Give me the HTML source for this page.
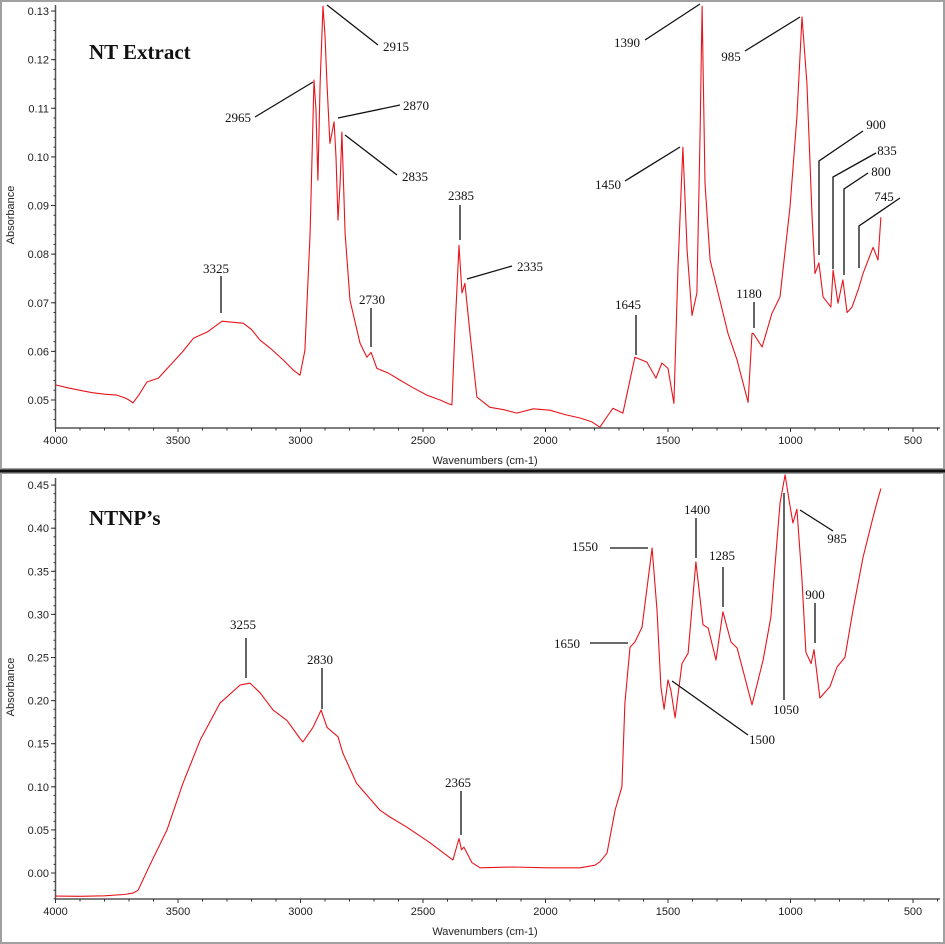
<!DOCTYPE html>
<html><head><meta charset="utf-8"><style>
html,body{margin:0;padding:0;background:#fff}
svg{display:block}
.tk{font-family:"Liberation Sans",sans-serif;font-size:11px;fill:#222}
.an{font-family:"Liberation Serif",serif;font-size:13px;fill:#111}
.ttl{font-family:"Liberation Serif",serif;font-size:21px;font-weight:bold;fill:#111}
.al{stroke:#111;stroke-width:1.3;fill:none}
</style></head><body>
<svg id="chart" width="945" height="944" viewBox="0 0 945 944" xmlns="http://www.w3.org/2000/svg">
<rect x="0" y="0" width="945" height="944" fill="#fff"/>
<rect x="1" y="1" width="943" height="468" fill="none" stroke="#a0a0a0" stroke-width="2"/>
<rect x="1" y="473" width="943" height="470" fill="none" stroke="#a0a0a0" stroke-width="2"/>
<line x1="0" y1="471" x2="945" y2="471" stroke="#111" stroke-width="3"/>
<g id="top"></g>
<g id="bot"></g>
<text class="ttl" x="89" y="59">NT Extract</text>
<text class="ttl" x="89" y="525">NTNP’s</text>
<g id="annTop">
<text class="an" x="238" y="122" text-anchor="middle">2965</text><path class="al" d="M255,117 L313,82"/>
<path class="al" d="M327,5 L378,45"/><text class="an" x="383" y="51">2915</text>
<path class="al" d="M338,118 L400,105"/><text class="an" x="403" y="110">2870</text>
<path class="al" d="M345,135 L397,175"/><text class="an" x="402" y="181">2835</text>
<text class="an" x="461" y="200" text-anchor="middle">2385</text><path class="al" d="M460,205 L460,240"/>
<path class="al" d="M467,279 L512,266"/><text class="an" x="517" y="271">2335</text>
<text class="an" x="372" y="304" text-anchor="middle">2730</text><path class="al" d="M371,308 L371,347"/>
<text class="an" x="216" y="273" text-anchor="middle">3325</text><path class="al" d="M221,276 L221,313"/>
<text class="an" x="627" y="47" text-anchor="middle">1390</text><path class="al" d="M645,40 L700,4"/>
<text class="an" x="731" y="61" text-anchor="middle">985</text><path class="al" d="M745,51 L800,17"/>
<text class="an" x="608" y="189" text-anchor="middle">1450</text><path class="al" d="M625,181 L680,147"/>
<text class="an" x="628" y="309" text-anchor="middle">1645</text><path class="al" d="M636,315 L636,355"/>
<text class="an" x="749" y="298" text-anchor="middle">1180</text><path class="al" d="M754,302 L754,328"/>
<text class="an" x="876" y="129" text-anchor="middle">900</text><path class="al" d="M819,255 L819,161 L863,131"/>
<text class="an" x="887" y="155" text-anchor="middle">835</text><path class="al" d="M833,269 L833,177 L876,153"/>
<text class="an" x="881" y="176" text-anchor="middle">800</text><path class="al" d="M844,275 L844,189 L868,173"/>
<text class="an" x="884" y="201" text-anchor="middle">745</text><path class="al" d="M859,268 L859,226 L900,198"/>
</g>
<g id="annBot">
<text class="an" x="243" y="629" text-anchor="middle">3255</text><path class="al" d="M246,638 L246,678"/>
<text class="an" x="320" y="664" text-anchor="middle">2830</text><path class="al" d="M322,668 L322,709"/>
<text class="an" x="458" y="787" text-anchor="middle">2365</text><path class="al" d="M461,791 L461,835"/>
<text class="an" x="585" y="551" text-anchor="middle">1550</text><path class="al" d="M610,548 L648,548"/>
<text class="an" x="567" y="648" text-anchor="middle">1650</text><path class="al" d="M590,643 L628,643"/>
<text class="an" x="697" y="514" text-anchor="middle">1400</text><path class="al" d="M696,518 L696,558"/>
<text class="an" x="722" y="560" text-anchor="middle">1285</text><path class="al" d="M723,567 L723,607"/>
<text class="an" x="762" y="744" text-anchor="middle">1500</text><path class="al" d="M672,681 L748,735"/>
<text class="an" x="786" y="714" text-anchor="middle">1050</text><path class="al" d="M784,493 L784,700"/>
<text class="an" x="837" y="543" text-anchor="middle">985</text><path class="al" d="M800,510 L833,531"/>
<text class="an" x="815" y="599" text-anchor="middle">900</text><path class="al" d="M815,603 L815,643"/>
</g>
</svg>
<script>
// ---- top spectrum (NT Extract)
const topWn  = [4000,3950,3900,3850,3800,3750,3720,3700,3684,3660,3627,3580,3520,3480,3437,3380,3320,3280,3234,3200,3165,3120,3070,3030,3002,2982,2961,2945,2937,2929,2920,2908,2900,2892,2880,2863,2855,2847,2838,2831,2818,2798,2757,2729,2712,2688,2640,2594,2540,2484,2430,2395,2382,2370,2353,2341,2329,2308,2280,2227,2170,2117,2050,1982,1920,1859,1810,1778,1750,1725,1684,1635,1586,1549,1525,1500,1476,1459,1439,1422,1402,1382,1369,1361,1349,1328,1288,1255,1218,1173,1157,1152,1116,1076,1043,1002,974,953,933,912,900,884,867,835,826,806,786,769,749,724,704,663,643,631];
const topAbs = [0.0531,0.0525,0.0520,0.0515,0.0512,0.0510,0.0505,0.0500,0.0494,0.0510,0.0537,0.0545,0.0578,0.0600,0.0627,0.0640,0.0662,0.0660,0.0658,0.0645,0.0623,0.0605,0.0582,0.0562,0.0551,0.0602,0.0843,0.1158,0.1100,0.0952,0.1150,0.1310,0.1250,0.1150,0.1028,0.1072,0.1000,0.0870,0.0950,0.1051,0.0843,0.0705,0.0617,0.0588,0.0598,0.0565,0.0555,0.0541,0.0525,0.0510,0.0500,0.0492,0.0490,0.0637,0.0818,0.0720,0.0740,0.0637,0.0506,0.0485,0.0480,0.0473,0.0482,0.0479,0.0470,0.0463,0.0455,0.0444,0.0465,0.0483,0.0473,0.0588,0.0578,0.0545,0.0576,0.0565,0.0493,0.0773,0.1020,0.0808,0.0674,0.0720,0.1050,0.1310,0.0946,0.0788,0.0705,0.0637,0.0582,0.0495,0.0637,0.0637,0.0609,0.0678,0.0712,0.0897,0.1082,0.1288,0.1152,0.0876,0.0760,0.0782,0.0712,0.0691,0.0767,0.0699,0.0747,0.0680,0.0691,0.0726,0.0760,0.0814,0.0788,0.0876];
const topYTicks = [0.05,0.06,0.07,0.08,0.09,0.10,0.11,0.12,0.13];
const topYLabels = ["0.05","0.06","0.07","0.08","0.09","0.10","0.11","0.12","0.13"];
// ---- bottom spectrum (NTNP's)
const botWn  = [4000,3900,3800,3720,3684,3663,3615,3545,3480,3410,3329,3247,3206,3165,3112,3055,3002,2990,2949,2916,2892,2847,2827,2771,2676,2635,2565,2471,2378,2353,2343,2333,2300,2267,2133,1994,1859,1798,1778,1749,1716,1688,1676,1655,1635,1606,1565,1545,1529,1516,1500,1488,1471,1443,1418,1386,1357,1336,1304,1276,1243,1218,1194,1157,1112,1080,1043,1022,1006,990,974,953,937,916,904,880,839,810,778,745,704,663,647,631];
const botAbs = [-0.0268,-0.0270,-0.0265,-0.0250,-0.0233,-0.0200,0.009,0.050,0.104,0.154,0.197,0.218,0.2203,0.209,0.189,0.177,0.156,0.152,0.169,0.189,0.169,0.158,0.139,0.104,0.073,0.065,0.053,0.035,0.015,0.040,0.027,0.030,0.012,0.006,0.007,0.006,0.006,0.009,0.013,0.023,0.073,0.100,0.197,0.262,0.268,0.285,0.377,0.305,0.216,0.190,0.224,0.212,0.180,0.243,0.255,0.361,0.288,0.284,0.247,0.303,0.268,0.261,0.235,0.195,0.247,0.297,0.429,0.462,0.433,0.406,0.422,0.340,0.256,0.243,0.259,0.203,0.216,0.239,0.250,0.305,0.366,0.413,0.430,0.446];
const botYTicks = [0.00,0.05,0.10,0.15,0.20,0.25,0.30,0.35,0.40,0.45];
const botYLabels = ["0.00","0.05","0.10","0.15","0.20","0.25","0.30","0.35","0.40","0.45"];
const xTicks = [4000,3500,3000,2500,2000,1500,1000,500];
const xLabels = ["4000","3500","3000","2500","2000","1500","1000","500"];

const NS="http://www.w3.org/2000/svg";
function mk(tag, attrs, parent){const e=document.createElementNS(NS,tag);for(const k in attrs)e.setAttribute(k,attrs[k]);parent.appendChild(e);return e;}
function xScale(w){return 55.5+(4000-w)*0.245;}

function panel(g, cfg){
  const yS = v => cfg.y0 - (v-cfg.v0)*cfg.k;
  const ax = mk('g',{},g);
  
  
  mk('line',{x1:55.5,y1:cfg.top,x2:55.5,y2:cfg.axisY,stroke:'#555','stroke-width':1.5},ax);
  mk('line',{x1:55.5,y1:cfg.axisY,x2:940,y2:cfg.axisY,stroke:'#555','stroke-width':1.5},ax);
  // y ticks
  cfg.yTicks.forEach((v,i)=>{
    const y=yS(v);
    mk('line',{x1:51,y1:y,x2:55.5,y2:y,stroke:'#333','stroke-width':1},ax);
    const t=mk('text',{x:49,y:y+4,'text-anchor':'end',class:'tk'},ax);
    t.textContent=cfg.yLabels[i];
    
    
  });
  // y minor ticks
  for(let v=cfg.yTicks[0]-cfg.minor*4; v<=cfg.yTicks[cfg.yTicks.length-1]+1e-9; v+=cfg.minor){
    const y=yS(v); if(y>cfg.axisY||y<cfg.top) continue;
    mk('line',{x1:53.5,y1:y,x2:55.5,y2:y,stroke:'#333','stroke-width':1},ax);
  }
  // x ticks
  xTicks.forEach((w,i)=>{
    const x=xScale(w);
    mk('line',{x1:x,y1:cfg.axisY,x2:x,y2:cfg.axisY+4,stroke:'#333','stroke-width':1},ax);
    const t=mk('text',{x:x,y:cfg.axisY+16,'text-anchor':'middle',class:'tk'},ax);
    t.textContent=xLabels[i];
    
    
  });
  for(let w=4000; w>=400; w-=100){
    const x=xScale(w); if(x>940) continue;
    mk('line',{x1:x,y1:cfg.axisY,x2:x,y2:cfg.axisY+2.5,stroke:'#333','stroke-width':1},ax);
  }
  const xt=mk('text',{x:485,y:cfg.axisY+36,'text-anchor':'middle',class:'tk'},ax);
  xt.textContent='Wavenumbers (cm-1)';
  
  
  const yt=mk('text',{x:0,y:0,'text-anchor':'middle',class:'tk',transform:'translate(14,'+cfg.ylabY+') rotate(-90)'},ax);
  yt.textContent='Absorbance';
  
  
  let d='';
  cfg.wn.forEach((w,i)=>{d+=(i?'L':'M')+xScale(w).toFixed(1)+','+yS(cfg.ab[i]).toFixed(1);});
  const p=mk('path',{d:d,fill:'none',stroke:'#e8141c','stroke-width':1.1,'stroke-linejoin':'round'},g);
  
  
}
panel(document.getElementById('top'),{name:'nt-extract',y0:400,v0:0.05,k:4862,top:5,axisY:428,yTicks:topYTicks,yLabels:topYLabels,minor:0.002,wn:topWn,ab:topAbs,ylabY:215});
panel(document.getElementById('bot'),{name:'ntnp',y0:873,v0:0.0,k:862,top:478,axisY:899,yTicks:botYTicks,yLabels:botYLabels,minor:0.01,wn:botWn,ab:botAbs,ylabY:687});
</script>
</body></html>
